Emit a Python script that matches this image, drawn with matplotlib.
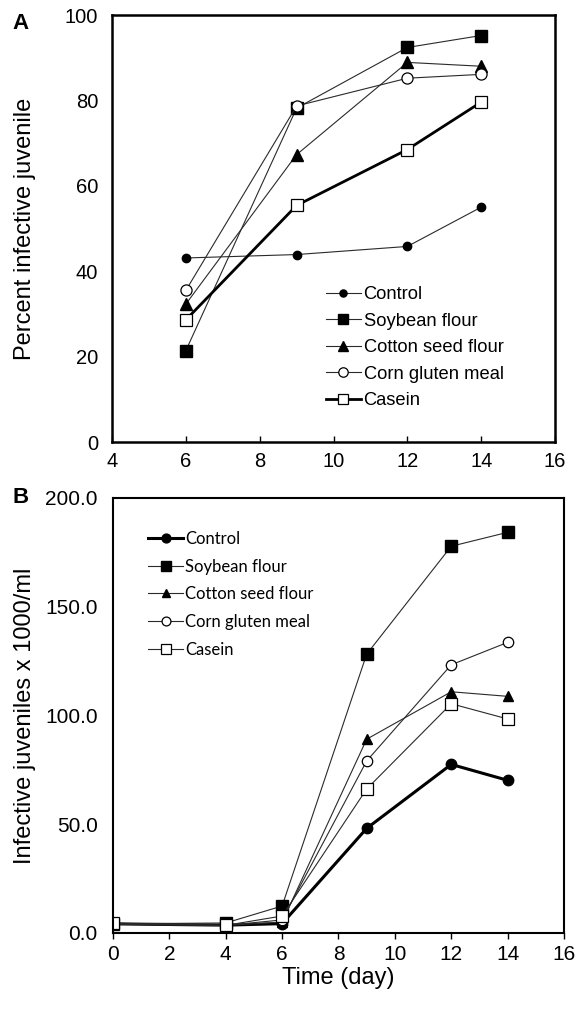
import matplotlib
matplotlib.use("Agg")
import matplotlib.pyplot as plt

# ---- Data: panel A (percent infective juvenile) ----
days_a = [6, 9, 12, 14]
a_control = [43.1, 43.9, 45.8, 55.0]
a_soybean = [21.4, 78.2, 92.4, 95.2]
a_cotton = [32.3, 67.3, 88.9, 88.0]
a_corn = [35.5, 78.7, 85.2, 86.1]
a_casein = [28.6, 55.4, 68.5, 79.6]

# ---- Data: panel B (infective juveniles x 1000/ml) ----
days_b = [0, 4, 6, 9, 12, 14]
b_control = [4.2, 3.6, 4.3, 48.1, 77.5, 70.2]
b_soybean = [4.2, 4.6, 12.4, 128.2, 177.8, 184.2]
b_cotton = [4.0, 3.5, 5.0, 89.1, 110.9, 108.8]
b_corn = [4.0, 3.5, 6.0, 79.1, 123.3, 133.6]
b_casein = [4.5, 3.5, 7.8, 66.2, 105.4, 98.4]

series_names = ["Control", "Soybean flour", "Cotton seed flour", "Corn gluten meal", "Casein"]

xticks_a = [4, 6, 8, 10, 12, 14, 16]
yticks_a = [0, 20, 40, 60, 80, 100]
xticks_b = [0, 2, 4, 6, 8, 10, 12, 14, 16]
yticks_b = [0, 50, 100, 150, 200]

plt.rcParams['font.family'] = ['Liberation Sans', 'DejaVu Sans']

fig = plt.figure(figsize=(5.81, 10.14), dpi=100)
posA = [0.1928, 0.5641, 0.7625, 0.4211]
posB = [0.1945, 0.0799, 0.7762, 0.4290]
axA = fig.add_axes(posA)
axB = fig.add_axes(posB)

thin = '#2a2a2a'

# Panel A
axA.plot(days_a, a_control, color=thin, lw=0.8, marker='o', ms=6, mfc='black', mec='black', label=series_names[0])
axA.plot(days_a, a_soybean, color=thin, lw=0.8, marker='s', ms=8, mfc='black', mec='black', label=series_names[1])
axA.plot(days_a, a_cotton, color=thin, lw=0.8, marker='^', ms=8, mfc='black', mec='black', label=series_names[2])
axA.plot(days_a, a_corn, color=thin, lw=0.8, marker='o', ms=8, mfc='white', mec='black', mew=0.9, label=series_names[3])
axA.plot(days_a, a_casein, color='black', lw=2.0, marker='s', ms=8, mfc='white', mec='black', mew=0.9, label=series_names[4])

axA.set_xlim(4, 16)
axA.set_ylim(0, 100)
axA.set_xticks(xticks_a)
axA.set_yticks(yticks_a)
axA.tick_params(axis='x', direction='in', length=4, width=1, labelsize=14.5, pad=7)
axA.tick_params(axis='y', length=0, labelsize=14.5, pad=10)
for s in axA.spines.values():
    s.set_linewidth(1.8)
axA.set_ylabel("Percent infective juvenile", fontsize=17)
axA.yaxis.set_label_coords(25/581, posA[1] + posA[3] / 2, transform=fig.transFigure)
axA.yaxis.label.set_va('center')
fig.text(12/581, 1 - 13/1014, "A", fontsize=16, fontweight='bold', ha='left', va='top')

legA = axA.legend(loc='upper left', bbox_to_anchor=(326/581, 1 - 286/1014),
                  bbox_transform=fig.transFigure, frameon=False, fontsize=13.2,
                  borderpad=0, borderaxespad=0, handlelength=1.9, handletextpad=0.15,
                  labelspacing=0.52, markerscale=0.85)

# Panel B
axB.plot(days_b, b_control, color='black', lw=2.2, marker='o', ms=7.5, mfc='black', mec='black', label=series_names[0])
axB.plot(days_b, b_soybean, color=thin, lw=0.8, marker='s', ms=8, mfc='black', mec='black', label=series_names[1])
axB.plot(days_b, b_cotton, color=thin, lw=0.8, marker='^', ms=6.5, mfc='black', mec='black', label=series_names[2])
axB.plot(days_b, b_corn, color=thin, lw=0.8, marker='o', ms=7.5, mfc='white', mec='black', mew=0.9, label=series_names[3])
axB.plot(days_b, b_casein, color=thin, lw=0.8, marker='s', ms=8.5, mfc='white', mec='black', mew=0.9, label=series_names[4])

axB.set_xlim(0, 16)
axB.set_ylim(0, 200)
axB.set_xticks(xticks_b)
axB.set_yticks(yticks_b)
axB.set_yticklabels([f"{v:.1f}" for v in yticks_b])
axB.tick_params(axis='x', direction='out', length=4, width=1, labelsize=15, pad=5)
axB.tick_params(axis='y', length=0, labelsize=15, pad=11)
for s in axB.spines.values():
    s.set_linewidth(1.5)
axB.set_ylabel("Infective juveniles x 1000/ml", fontsize=17)
axB.yaxis.set_label_coords(25/581, posB[1] + posB[3] / 2, transform=fig.transFigure)
axB.yaxis.label.set_va('center')
axB.set_xlabel("Time (day)", fontsize=17)
axB.xaxis.set_label_coords(posB[0] + posB[2] / 2, 1 - 978/1014, transform=fig.transFigure)
axB.xaxis.label.set_va('center')
fig.text(12/581, 1 - 487/1014, "B", fontsize=16, fontweight='bold', ha='left', va='top')

legB = axB.legend(loc='upper left', bbox_to_anchor=(148/581, 1 - 531/1014),
                  bbox_transform=fig.transFigure, frameon=False,
                  prop={'family': ['Lato', 'DejaVu Sans'], 'size': 12},
                  borderpad=0, borderaxespad=0, handlelength=2.1, handletextpad=0.12,
                  labelspacing=0.7, markerscale=0.85)

fig.savefig("out.png", dpi=100)
